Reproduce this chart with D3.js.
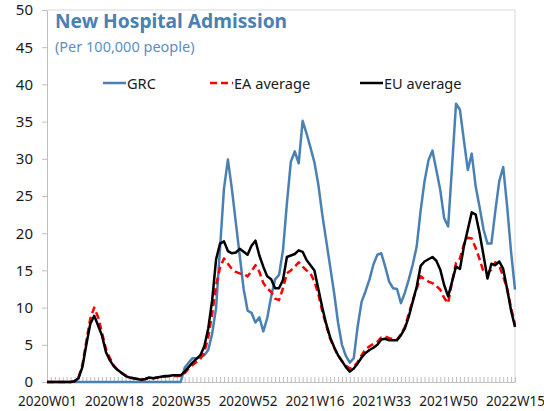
<!DOCTYPE html>
<html><head><meta charset="utf-8">
<script src="https://cdn.jsdelivr.net/npm/d3@7"></script>
<style>
html,body{margin:0;padding:0;background:#fff;}
svg{display:block;}
text{font-family:"Noto Sans",sans-serif;}
</style></head>
<body>
<svg id="chart" width="544" height="411"></svg>
<script>
// ---- data ----
const years = [2020, 2021, 2022];
const weeksInYear = [53, 52, 15];
const categories = [];
years.forEach((yr, k) => { for (let w = 1; w <= weeksInYear[k]; w++) categories.push(yr + "W" + String(w).padStart(2, "0")); });

const xTickLabels = ["2020W01","2020W18","2020W35","2020W52","2021W16","2021W33","2021W50","2022W15"];
const yTicks = [0,5,10,15,20,25,30,35,40,45,50];

const grc = [
0,0,0,0,0,0,0,0,0,0,
0,0,0,0,0,0,0,0,0,0,
0,0,0,0,0,0,0,0,0,0,
0,0,0,0,0,1.9,2.6,3.2,3.2,3.3,
3.6,4.3,6.5,10,18,26,29.9,26,21.5,17,
12.5,9.6,9.3,8.0,8.7,6.8,8.6,11.5,13.8,14.4,
17.7,24,29.6,31,29.4,35.1,33.4,31.5,29.5,26.5,
22.5,19,15.5,12,8,5,3.5,2.6,3.2,7.5,
10.8,12.2,13.8,15.8,17.1,17.3,15.5,13.5,12.6,12.5,
10.6,12,13.8,15.8,18.2,23,27,29.8,31.1,28.5,
25.8,22,20.9,29,37.4,36.6,32.5,28.5,30.7,26.3,
23.5,20.5,18.6,18.6,23,27,28.9,23.6,17.5,12.4
];
const eaAvg = [
0,0,0,0,0,0,0,0.1,0.6,2.3,
5.5,8.5,10.0,8.7,6.6,4.4,3.2,2.2,1.6,1.2,
0.9,0.6,0.5,0.4,0.3,0.4,0.5,0.5,0.6,0.7,
0.7,0.8,0.8,0.8,0.8,1.2,1.8,2.3,2.7,3.1,
4.0,6.0,9.2,13.0,15.4,16.6,15.9,15.2,14.8,14.6,
14.5,14.2,14.9,15.7,14.8,13.3,12.6,12.1,11.2,11.0,
12.6,14.6,15.0,15.5,16.1,15.5,15.0,14.6,13.5,11.8,
9.5,7.6,5.8,4.6,3.6,2.8,2.2,1.8,2.0,2.7,
3.6,4.4,4.8,5.1,5.4,6.0,6.1,5.9,5.8,5.7,
6.4,7.4,9.2,11.0,12.5,14.2,13.8,13.5,13.3,12.9,
12.4,11.3,10.6,13.5,16.0,16.6,18.5,19.4,19.3,18.0,
16.5,14.8,14.6,15.1,16.1,15.6,14.2,12.5,10.0,7.7
];
const euAvg = [
0,0,0,0,0,0,0,0.1,0.5,2.0,
5.0,7.8,8.9,7.6,6.2,4.0,2.9,2.1,1.6,1.2,
0.8,0.6,0.5,0.4,0.3,0.4,0.6,0.5,0.6,0.7,
0.8,0.8,0.9,0.9,0.9,1.4,2.0,2.6,3.1,3.6,
4.8,7.2,11.0,16.5,18.6,18.9,17.6,17.3,17.4,17.9,
17.5,17.1,18.3,19.0,17.0,15.5,14.2,13.8,12.6,12.6,
13.7,16.8,17.0,17.2,17.7,17.5,16.4,15.7,15.0,12.5,
10.0,7.8,6.0,4.7,3.6,2.8,2.0,1.4,1.8,2.5,
3.3,3.9,4.3,4.6,5.0,5.7,5.8,5.6,5.6,5.6,
6.3,7.2,8.8,10.8,12.8,15.6,16.2,16.5,16.8,16.3,
15.1,13.0,11.5,13.5,15.5,15.2,18.2,20.5,22.8,22.5,
20.0,17.0,13.9,15.9,15.7,16.2,15.2,12.5,9.6,7.4
];
const seriesNames = ["GRC","EA average","EU average"];

// ---- layout ----
const svg = d3.select("#chart");
const L = 47, R = 515, T = 10, B = 382;
const x = d3.scalePoint().domain(categories).range([L, R]);
const y = d3.scaleLinear().domain([0, 50]).range([B, T]);

const axisGray = "#bfbfbf";

// plot border (top/right)
svg.append("path").attr("d", `M${L},${T}H${R}V${B}`).attr("fill","none").attr("stroke","#d9d9d9").attr("stroke-width",1);

// y axis
const gy = svg.append("g").attr("transform", `translate(${L},0)`)
  .call(d3.axisLeft(y).tickValues(yTicks).tickSize(5).tickSizeOuter(0).tickPadding(9));
gy.select(".domain").attr("stroke", axisGray);
gy.selectAll(".tick line").attr("stroke", axisGray);
gy.selectAll("text").attr("font-size", 15).attr("fill", "#1a1a1a").attr("font-family", "Noto Sans");

// x axis
const gx = svg.append("g").attr("transform", `translate(0,${B})`)
  .call(d3.axisBottom(x).tickSizeInner(-5).tickSizeOuter(0).tickPadding(14)
    .tickFormat(d => xTickLabels.includes(d) ? d : ""));
gx.select(".domain").attr("stroke", axisGray);
gx.selectAll(".tick line").attr("stroke", axisGray);
gx.selectAll("text").attr("font-size", 13.5).attr("fill", "#1a1a1a").attr("font-family", "Noto Sans");

// lines
const colors = ["#4a80b4", "#ff0000", "#000000"];
const dashes = [null, "7,4", null];
const allSeries = [grc, eaAvg, euAvg];
const line = d3.line().x((d, i) => x(categories[i])).y(d => y(d));
allSeries.forEach((s, k) => {
  svg.append("path").datum(s).attr("d", line)
    .attr("fill", "none").attr("stroke", colors[k]).attr("stroke-width", 2.5)
    .attr("stroke-dasharray", dashes[k]).attr("stroke-linejoin", "round");
});

// title
svg.append("text").attr("x", 55).attr("y", 28).text("New Hospital Admission")
  .attr("font-size", 19.2).attr("font-weight", "bold").attr("fill", "#4a80b4");
svg.append("text").attr("x", 55).attr("y", 52).text("(Per 100,000 people)")
  .attr("font-size", 14.5).attr("fill", "#5b8fc4");

// legend
const legX = [103, 210, 360];
seriesNames.forEach((n, k) => {
  svg.append("line").attr("x1", legX[k]).attr("x2", legX[k] + 23).attr("y1", 83).attr("y2", 83)
    .attr("stroke", colors[k]).attr("stroke-width", 2.5).attr("stroke-dasharray", dashes[k]);
  svg.append("text").attr("x", legX[k] + 24).attr("y", 89).text(n)
    .attr("font-size", 14.6).attr("fill", "#1a1a1a");
});
</script>
</body></html>
